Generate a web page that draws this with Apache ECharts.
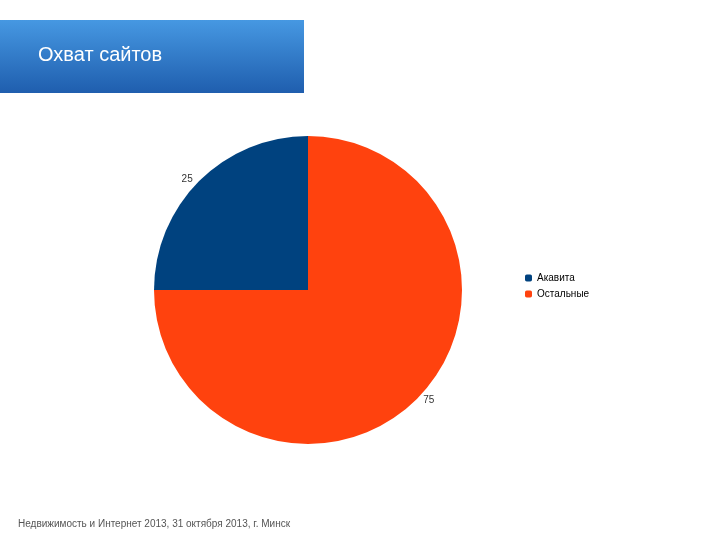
<!DOCTYPE html>
<html lang="ru">
<head>
  <meta charset="utf-8" />
  <script src="https://cdn.jsdelivr.net/npm/echarts@6/dist/echarts.min.js"></script>
  <style>
    html, body { margin: 0; padding: 0; background: #fff; }
    #main { width: 720px; height: 540px; }
  </style>
</head>
<body>
  <div id="main"></div>
  <script>
    // данные
    var categories = ['Акавита', 'Остальные'];
    var values = [25, 75];
    var colors = ['#00427f', '#ff420e'];

    var chart = echarts.init(document.getElementById('main'));
    var font = '"Liberation Sans", Arial, sans-serif';

    chart.setOption({
      animation: false,
      textStyle: { fontFamily: font },
      graphic: [
        {
          type: 'rect', left: 0, top: 20, z: 0,
          shape: { width: 304, height: 73 },
          style: {
            fill: new echarts.graphic.LinearGradient(0, 0, 0, 1, [
              { offset: 0, color: '#4698e2' },
              { offset: 1, color: '#1f5eae' }
            ])
          }
        },
        {
          type: 'text', left: 38, top: 45, z: 1,
          style: { text: 'Охват сайтов', fill: '#fff', font: '20px ' + font }
        },
        {
          type: 'text', left: 18, top: 519,
          style: { text: 'Недвижимость и Интернет 2013, 31 октября 2013, г. Минск', fill: '#555', font: '10px ' + font }
        }
      ],
      legend: {
        orient: 'vertical', left: 520, top: 268,
        itemWidth: 7, itemHeight: 7, itemGap: 6,
        data: categories,
        textStyle: { fontSize: 10, color: '#000', fontFamily: font }
      },
      series: [{
        type: 'pie',
        center: [308, 290],
        radius: 154,
        startAngle: 90,
        clockwise: false,
        data: categories.map(function (c, i) {
          return { name: c, value: values[i], itemStyle: { color: colors[i] } };
        }),
        label: {
          show: true, position: 'outside', formatter: '{c}',
          fontSize: 10, color: '#333', fontFamily: font
        },
        labelLine: { show: false, length: 2, length2: 0 },
        emphasis: { disabled: true }
      }]
    });
  </script>
</body>
</html>
